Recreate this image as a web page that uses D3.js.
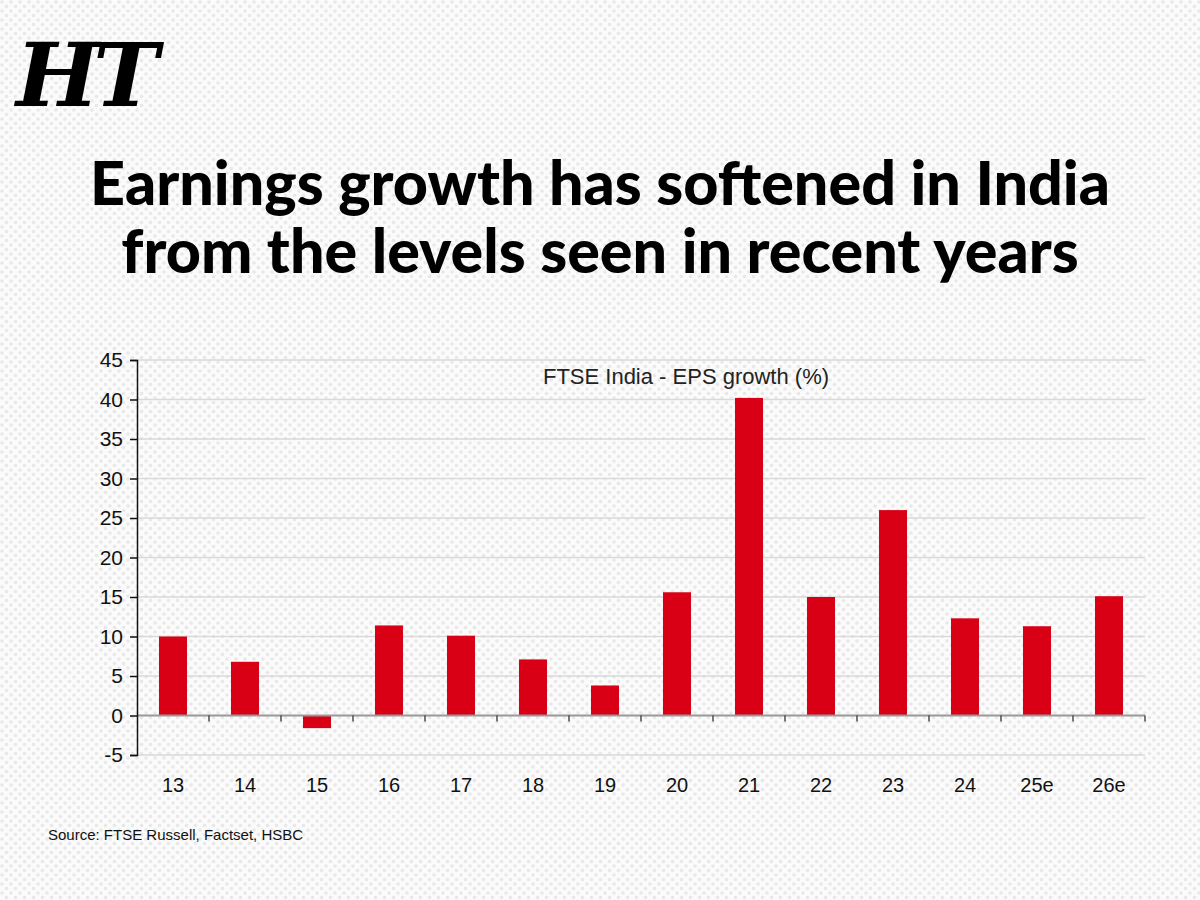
<!DOCTYPE html>
<html>
<head>
<meta charset="utf-8">
<script src="https://cdn.jsdelivr.net/npm/d3@7"></script>
<style>
  body { margin: 0; padding: 0; background: #fff; }
  svg { display: block; }
</style>
</head>
<body>
<div id="holder"></div>
<script>
// FTSE India EPS growth (%)
var years = ['13', '14', '15', '16', '17', '18', '19', '20', '21', '22', '23', '24', '25e', '26e'];
var epsGrowth = [10, 6.8, -1.6, 11.4, 10.1, 7.1, 3.8, 15.6, 40.2, 15, 26, 12.3, 11.3, 15.1];
var yTicks = [-5, 0, 5, 10, 15, 20, 25, 30, 35, 40, 45];

var titleLines = ['Earnings growth has softened in India', 'from the levels seen in recent years'];

var width = 1200, height = 900;
var svg = d3.select('#holder').append('svg').attr('width', width).attr('height', height);

// dotted paper background
var defs = svg.append('defs');
var pat = defs.append('pattern').attr('id', 'dots').attr('width', 9).attr('height', 9)
  .attr('patternUnits', 'userSpaceOnUse');
pat.append('rect').attr('width', 9).attr('height', 9).attr('fill', '#fbfbfb');
pat.append('circle').attr('cx', 2).attr('cy', 2).attr('r', 1.8).attr('fill', '#e8e8e8');
pat.append('circle').attr('cx', 6.5).attr('cy', 6.5).attr('r', 1.8).attr('fill', '#e8e8e8');
svg.append('rect').attr('width', width).attr('height', height).attr('fill', 'url(#dots)');

// logo
svg.append('text')
  .attr('x', 16).attr('y', 106)
  .style('font-family', '"DejaVu Serif", serif')
  .style('font-weight', 'bold')
  .style('font-style', 'italic')
  .style('font-size', '88px')
  .style('letter-spacing', '-6px')
  .attr('fill', '#000')
  .text('HT');

// headline
svg.selectAll('.headline').data(titleLines).enter().append('text')
  .attr('class', 'headline')
  .attr('x', 600)
  .attr('y', function(d, i) { return 205 + i * 68; })
  .attr('text-anchor', 'middle')
  .style('font-family', 'Lato, sans-serif')
  .style('font-weight', 900)
  .style('font-size', '61px')
  .attr('fill', '#000')
  .text(function(d) { return d; });

var margin = {left: 137, right: 1145, top: 360, bottom: 755};

var xOuter = d3.scaleBand().domain(years).range([margin.left, margin.right]);
var y = d3.scaleLinear().domain([-5, 45]).range([margin.bottom, margin.top]);

var fontAxis = '"Liberation Sans", Arial, sans-serif';

// grid
svg.append('g').selectAll('line').data(yTicks.filter(function(t) { return t !== 0; })).enter().append('line')
  .attr('x1', margin.left).attr('x2', margin.right)
  .attr('y1', function(d) { return y(d); }).attr('y2', function(d) { return y(d); })
  .attr('stroke', '#d9d9d9').attr('stroke-width', 1.5);

// bars
svg.append('g').selectAll('rect').data(epsGrowth).enter().append('rect')
  .attr('x', function(d, i) { return xOuter(years[i]) + (xOuter.bandwidth() - 28) / 2; })
  .attr('width', 28)
  .attr('y', function(d) { return y(Math.max(0, d)); })
  .attr('height', function(d) { return Math.abs(y(d) - y(0)); })
  .attr('fill', '#d90015');

// zero line with ticks
var zero = svg.append('g').attr('transform', 'translate(0,' + y(0) + ')');
zero.append('line').attr('x1', margin.left).attr('x2', margin.right)
  .attr('stroke', '#999').attr('stroke-width', 2);
zero.selectAll('.xt').data(years.slice(1).concat(['end'])).enter().append('line')
  .attr('x1', function(d, i) { return i < years.length - 1 ? xOuter(d) : margin.right; })
  .attr('x2', function(d, i) { return i < years.length - 1 ? xOuter(d) : margin.right; })
  .attr('y1', 0).attr('y2', 6)
  .attr('stroke', '#222').attr('stroke-width', 1.2);

// y axis
var yAxis = d3.axisLeft(y).tickValues(yTicks).tickSize(7).tickPadding(7)
  .tickFormat(function(d) { return String(d); });
var gy = svg.append('g').attr('transform', 'translate(' + margin.left + ',0)').call(yAxis);
gy.select('.domain').attr('stroke', '#111').attr('stroke-width', 1.5);
gy.selectAll('.tick line').attr('stroke', '#111').attr('stroke-width', 1.5);
gy.selectAll('.tick text').style('font-family', fontAxis).style('font-size', '21px').attr('fill', '#111');

// x labels
svg.append('g').selectAll('text').data(years).enter().append('text')
  .attr('x', function(d) { return xOuter(d) + xOuter.bandwidth() / 2; })
  .attr('y', 792)
  .attr('text-anchor', 'middle')
  .style('font-family', fontAxis).style('font-size', '20px').attr('fill', '#111')
  .text(function(d) { return d; });

// chart title
svg.append('text')
  .attr('x', 686).attr('y', 384)
  .attr('text-anchor', 'middle')
  .style('font-family', fontAxis).style('font-size', '22px').attr('fill', '#222')
  .text('FTSE India - EPS growth (%)');

// source
svg.append('text')
  .attr('x', 48).attr('y', 840)
  .style('font-family', fontAxis).style('font-size', '15px').attr('fill', '#111')
  .text('Source: FTSE Russell, Factset, HSBC');
</script>
</body>
</html>
